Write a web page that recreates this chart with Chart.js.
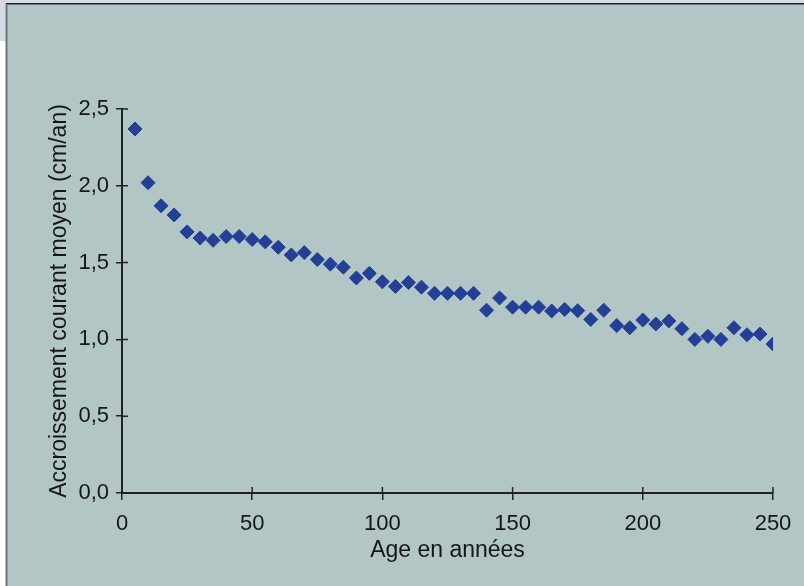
<!DOCTYPE html>
<html>
<head>
<meta charset="utf-8">
<script src="https://cdn.jsdelivr.net/npm/chart.js@4.4.1/dist/chart.umd.min.js"></script>
<style>
  html, body { margin: 0; padding: 0; background: #ffffff; }
  #wrap { position: relative; width: 804px; height: 586px; }
</style>
</head>
<body>
<div id="wrap"><canvas id="growthChart"></canvas></div>
<script>
// ages (années) et accroissement courant moyen (cm/an)
const ages = [5, 10, 15, 20, 25, 30, 35, 40, 45, 50,
  55, 60, 65, 70, 75, 80, 85, 90, 95, 100,
  105, 110, 115, 120, 125, 130, 135, 140, 145, 150,
  155, 160, 165, 170, 175, 180, 185, 190, 195, 200,
  205, 210, 215, 220, 225, 230, 235, 240, 245, 250];
const accroissement = [2.37, 2.02, 1.87, 1.81, 1.70, 1.66, 1.645, 1.67, 1.67, 1.65,
  1.635, 1.60, 1.55, 1.565, 1.52, 1.49, 1.47, 1.40, 1.43, 1.375,
  1.345, 1.37, 1.34, 1.30, 1.30, 1.30, 1.30, 1.19, 1.27, 1.21,
  1.21, 1.21, 1.185, 1.195, 1.187, 1.13, 1.19, 1.09, 1.076, 1.126,
  1.10, 1.12, 1.07, 1.00, 1.02, 1.00, 1.076, 1.03, 1.035, 0.97];
const xTicks = [0, 50, 100, 150, 200, 250];
const yTicks = [0, 0.5, 1.0, 1.5, 2.0, 2.5];

const points = ages.map((a, i) => ({ x: a, y: accroissement[i] }));

// fond du panneau et bordures
const panelBg = {
  id: "panelBg",
  beforeDraw(chart) {
    const ctx = chart.ctx;
    ctx.save();
    ctx.fillStyle = "#d5dce6";
    ctx.fillRect(0, 0, 804, 4);
    ctx.fillRect(0, 0, 7, 41);
    ctx.fillStyle = "#b2c7c5";
    ctx.fillRect(7, 4, 797, 582);
    ctx.strokeStyle = "#222222";
    ctx.lineWidth = 1.5;
    ctx.beginPath();
    ctx.moveTo(6, 3.75);
    ctx.lineTo(804, 3.75);
    ctx.stroke();
    ctx.strokeStyle = "#6b7675";
    ctx.lineWidth = 2;
    ctx.beginPath();
    ctx.moveTo(6.5, 4);
    ctx.lineTo(6.5, 586);
    ctx.stroke();
    ctx.restore();
  },
  // partie intérieure des graduations (elles traversent l'axe)
  afterDraw(chart) {
    const ctx = chart.ctx;
    const xs = chart.scales.x, ys = chart.scales.y;
    ctx.save();
    ctx.strokeStyle = "#222222";
    ctx.lineWidth = 1.5;
    ctx.beginPath();
    xTicks.forEach((v) => {
      const px = xs.getPixelForValue(v);
      ctx.moveTo(px, ys.bottom);
      ctx.lineTo(px, ys.bottom - 6);
    });
    yTicks.forEach((v) => {
      const py = ys.getPixelForValue(v);
      ctx.moveTo(xs.left, py);
      ctx.lineTo(xs.left + 6, py);
    });
    ctx.stroke();
    ctx.restore();
  },
};

const fontFamily = "'Liberation Sans', Arial, Helvetica, sans-serif";

new Chart(document.getElementById("growthChart"), {
  type: "scatter",
  data: {
    datasets: [
      {
        data: points,
        pointStyle: "rectRot",
        pointRadius: 7,
        pointHoverRadius: 7,
        backgroundColor: "#233f96",
        borderColor: "#233f96",
        borderWidth: 1,
      },
    ],
  },
  options: {
    responsive: true,
    maintainAspectRatio: false,
    animation: false,
    layout: { padding: { left: 0, top: 109, right: 31, bottom: 0 } },
    plugins: {
      legend: { display: false },
      tooltip: { enabled: false },
    },
    scales: {
      x: {
        type: "linear",
        min: 0,
        max: 250,
        afterBuildTicks: (scale) => { scale.ticks = xTicks.map((v) => ({ value: v })); },
        afterFit: (scale) => { scale.height = 93; },
        border: { display: true, color: "#222222", width: 2 },
        grid: { drawOnChartArea: false, drawTicks: true, tickLength: 7, color: "#222222", lineWidth: 1.5 },
        ticks: {
          color: "#161616",
          padding: 11,
          maxRotation: 0,
          font: { family: fontFamily, size: 22 },
          callback: (v) => String(v),
        },
        title: {
          display: true,
          text: "Age en années",
          color: "#161616",
          font: { family: fontFamily, size: 23 },
          padding: { top: 0, bottom: 22 },
        },
      },
      y: {
        type: "linear",
        min: 0,
        max: 2.5,
        afterBuildTicks: (scale) => { scale.ticks = yTicks.map((v) => ({ value: v })); },
        afterFit: (scale) => { scale.width = 122; },
        border: { display: true, color: "#222222", width: 2 },
        grid: { drawOnChartArea: false, drawTicks: true, tickLength: 6, color: "#222222", lineWidth: 1.5 },
        ticks: {
          color: "#161616",
          padding: 7,
          font: { family: fontFamily, size: 22 },
          callback: (v) => v.toFixed(1).replace(".", ","),
        },
        title: {
          display: true,
          text: "Accroissement courant moyen (cm/an)",
          color: "#161616",
          font: { family: fontFamily, size: 23 },
          padding: { top: 46, bottom: 0 },
        },
      },
    },
  },
  plugins: [panelBg],
});
</script>
</body>
</html>
